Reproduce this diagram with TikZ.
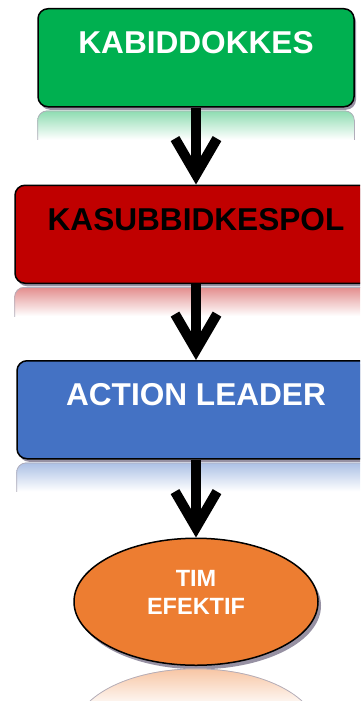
\documentclass[tikz,border=0pt]{standalone}
\usepackage{fontspec}
\setmainfont{Liberation Sans}
\usepackage{tikz}
\usetikzlibrary{arrows.meta}
\usetikzlibrary{calc}
\usetikzlibrary{shapes}
\usetikzlibrary{shadows}
\usetikzlibrary{positioning}
\definecolor{boxgreen}{RGB}{0,176,80}
\definecolor{boxred}{RGB}{192,0,0}
\definecolor{boxblue}{RGB}{68,114,196}
\definecolor{boxorange}{RGB}{237,125,49}
\definecolor{shadowgray}{RGB}{125,118,140}
\tikzset{level/.style={draw, line width=1.5pt, rounded corners=10pt, minimum height=98pt, inner ysep=0pt, text height=45pt, text depth=53pt, font=\fontsize{31.6}{37}\selectfont\bfseries, drop shadow={shadow xshift=2pt, shadow yshift=-3pt, fill=shadowgray, opacity=0.8}}}
\tikzset{flow/.style={line width=10pt, -{Straight Barb[length=36pt, width=42pt]}}}

\begin{document}
\begin{tikzpicture}[x=1pt, y=-1pt]
        \useasboundingbox (0,0) rectangle (360,701);
        \clip (0,0) rectangle (360,701);

        % Nodes
        \node[level, fill=boxgreen, text=white, minimum width=316pt, anchor=north] (kabid) at (196,8) {KABIDDOKKES};
        \node[level, fill=boxred, text=black, minimum width=362pt, below=77pt of kabid] (kasub) {KASUBBIDKESPOL};
        \node[level, fill=boxblue, text=white, minimum width=358pt, below=76pt of kasub] (action) {ACTION LEADER};
        \node[draw, ellipse, line width=1.5pt, fill=boxorange, text=white, minimum width=244pt, minimum height=127pt, inner sep=0pt, align=center, text depth=18pt, font=\fontsize{23.5}{28}\selectfont\bfseries, drop shadow={shadow xshift=3pt, shadow yshift=-4pt, fill=shadowgray, opacity=0.8}, below=78pt of action] (tim) {TIM\\EFEKTIF};

        % Reflections
        \foreach \n/\c in {kabid/boxgreen, kasub/boxred, action/boxblue} {
            \begin{scope}
                \clip ($(\n.south west)+(-5,2)$) rectangle ($(\n.south east)+(5,32)$);
                \clip[rounded corners=10pt] ($(\n.south west)+(0,3)$) rectangle ($(\n.south east)+(0,100)$);
                \shade[top color=\c!45!white, bottom color=white] ($(\n.south west)+(0,3)$) rectangle ($(\n.south east)+(0,32)$);
                \draw[shadowgray!60, line width=1.5pt, rounded corners=10pt] ($(\n.south west)+(0,3)$) rectangle ($(\n.south east)+(0,100)$);
            \end{scope}
        }
        \begin{scope}
            \clip ($(tim.south)+(-130,2)$) rectangle ($(tim.south)+(130,42)$);
            \clip ($(tim.south)+(0,66)$) ellipse [x radius=122, y radius=63.5];
            \shade[top color=boxorange!45!white, bottom color=white] ($(tim.south)+(-130,2)$) rectangle ($(tim.south)+(130,42)$);
            \draw[shadowgray!60, line width=1.5pt] ($(tim.south)+(0,66)$) ellipse [x radius=122, y radius=63.5];
        \end{scope}

        % Arrows
        \draw[flow] (kabid) -- (kasub);
        \draw[flow] (kasub) -- (action);
        \draw[flow] (action) -- (tim);
    \end{tikzpicture}
\end{document}
